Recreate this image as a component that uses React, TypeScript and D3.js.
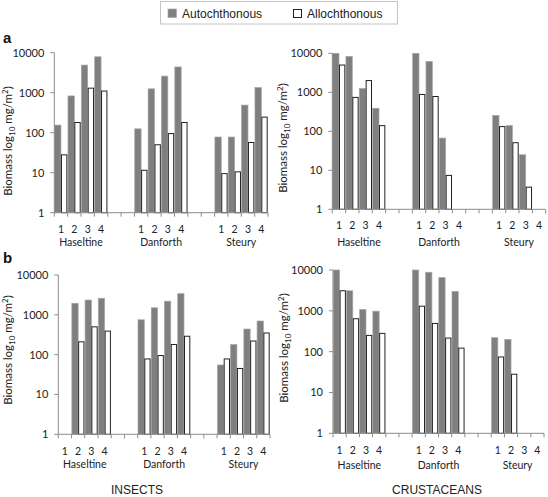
import React from "react";
import * as d3 from "d3";

// ---- data ----
const sites = ["Haseltine", "Danforth", "Steury"];
const reaches = ["1", "2", "3", "4"];
const yTicks = [1, 10, 100, 1000, 10000];
const seriesNames = ["Autochthonous", "Allochthonous"];

// values per slot: Haseltine 1-4, Danforth 1-4, Steury 1-4 (null = no bar)
const insectsA_auto = [155, 830, 4900, 7900, 125, 1250, 2600, 4400, 78, 78, 490, 1350];
const insectsA_allo = [28, 180, 1300, 1100, 11.5, 50, 95, 180, 9.5, 10.5, 57, 245];
const crustA_auto = [10000, 8300, 1250, 390, 10000, 6200, 67, null, 255, 140, 25, null];
const crustA_allo = [5000, 740, 2000, 140, 880, 780, 7.4, null, 132, 51, 3.7, null];
const insectsB_auto = [null, 1950, 2350, 2600, 750, 1500, 2200, 3400, 55, 180, 440, 700];
const insectsB_allo = [null, 210, 500, 390, 78, 95, 180, 290, 78, 45, 220, 350];
const crustB_auto = [10000, 3100, 1080, 980, 10000, 8800, 6500, 3000, 220, 200, null, null];
const crustB_allo = [3100, 640, 250, 280, 1300, 490, 215, 122, 74, 28, null, null];

const panelTitles = ["INSECTS", "CRUSTACEANS"];
const panelLetters = ["a", "b"];

// slots: 4 reaches per site, 2 blank slots between sites
const slotKeys: string[] = [];
sites.forEach((s, i) => {
  reaches.forEach((r) => slotKeys.push(`${s}-${r}`));
  if (i < sites.length - 1) {
    slotKeys.push(`gap${i}a`);
    slotKeys.push(`gap${i}b`);
  }
});

const FONT = "Lato, 'Open Sans', sans-serif";
const ARIAL = "'Liberation Sans', Arial, sans-serif";
const GRAY = "#7f7f7f";
const AXIS = "#8c8c8c";

type PanelCfg = {
  x0: number; x1: number; yTop: number; yBot: number;
  auto: (number | null)[]; allo: (number | null)[];
  numY: number; nameY: number; titleX: number; titleY: number;
};

function Panel({ cfg }: { cfg: PanelCfg }) {
  const x = d3.scaleBand<string>().domain(slotKeys).range([cfg.x0, cfg.x1]).padding(0);
  const y = d3.scaleLog().domain([1, 10000]).range([cfg.yBot, cfg.yTop]);
  const sub = d3.scaleBand<string>().domain(seriesNames).range([0, x.bandwidth()]).paddingOuter(0.05).paddingInner(0);
  const keysData = sites.flatMap((s) => reaches.map((r) => `${s}-${r}`));
  const boundaries = slotKeys.map((k) => x(k)!).concat([cfg.x1]);
  const groups = [cfg.auto, cfg.allo];
  return (
    <g>
      {/* bars */}
      {groups.map((vals, si) =>
        vals.map((v, i) => {
          if (v == null) return null;
          const bx = x(keysData[i])! + sub(seriesNames[si])!;
          const top = y(v);
          return si === 0 ? (
            <rect key={`${si}-${i}`} x={bx} y={top} width={sub.bandwidth()} height={cfg.yBot - top}
              fill={GRAY} stroke="#a6a6a6" strokeWidth={0.7} />
          ) : (
            <rect key={`${si}-${i}`} x={bx + 0.5} y={top} width={sub.bandwidth() - 1} height={cfg.yBot - top}
              fill="#ffffff" stroke="#222" strokeWidth={1} />
          );
        })
      )}
      {/* y axis */}
      <line x1={cfg.x0} x2={cfg.x0} y1={cfg.yTop} y2={cfg.yBot} stroke={AXIS} strokeWidth={1} />
      {yTicks.map((t) => (
        <g key={t}>
          <line x1={cfg.x0 - 4} x2={cfg.x0} y1={y(t)} y2={y(t)} stroke={AXIS} strokeWidth={1} />
          <text x={cfg.x0 - 10} y={y(t)} dy="0.35em" textAnchor="end" fontFamily={FONT} fontSize={11} fill="#222">
            {d3.format("d")(t)}
          </text>
        </g>
      ))}
      {/* x axis */}
      <line x1={cfg.x0} x2={cfg.x1} y1={cfg.yBot} y2={cfg.yBot} stroke={AXIS} strokeWidth={1} />
      {boundaries.map((bx, i) => (
        <line key={i} x1={bx} x2={bx} y1={cfg.yBot} y2={cfg.yBot + 4} stroke={AXIS} strokeWidth={1} />
      ))}
      {keysData.map((k) => (
        <text key={k} x={x(k)! + x.bandwidth() / 2} y={cfg.numY} textAnchor="middle" fontFamily={FONT} fontSize={10.5} fill="#222">
          {k.split("-")[1]}
        </text>
      ))}
      {sites.map((s) => {
        const a = x(`${s}-1`)!;
        const b = x(`${s}-4`)! + x.bandwidth();
        return (
          <text key={s} x={(a + b) / 2} y={cfg.nameY} textAnchor="middle" fontFamily={FONT} fontSize={10.5} fill="#222">
            {s}
          </text>
        );
      })}
      {/* y title */}
      <text transform={`translate(${cfg.titleX},${cfg.titleY}) rotate(-90)`} textAnchor="middle"
        fontFamily={FONT} fontSize={11.5} fill="#222" dy="0.35em">
        Biomass log<tspan fontSize={8} dy="2.5">10</tspan><tspan dy="-2.5"> mg/m</tspan>
        <tspan fontSize={8} dy="-4">2</tspan><tspan dy="4">)</tspan>
      </text>
    </g>
  );
}

export default function App() {
  const panels: PanelCfg[] = [
    { x0: 54.3, x1: 268, yTop: 52.7, yBot: 212.7, auto: insectsA_auto, allo: insectsA_allo, numY: 233.3, nameY: 246, titleX: 8, titleY: 141 },
    { x0: 332.3, x1: 545.7, yTop: 53.3, yBot: 209.3, auto: crustA_auto, allo: crustA_allo, numY: 229.3, nameY: 246, titleX: 283, titleY: 138 },
    { x0: 58.3, x1: 270, yTop: 275, yBot: 434.3, auto: insectsB_auto, allo: insectsB_allo, numY: 455.3, nameY: 468, titleX: 8, titleY: 350 },
    { x0: 333, x1: 544, yTop: 270, yBot: 433.3, auto: crustB_auto, allo: crustB_allo, numY: 453.5, nameY: 469, titleX: 284, titleY: 348 },
  ];
  return (
    <div style={{ position: "absolute", left: 0, top: 0 }}>
      <svg width={548} height={497} style={{ display: "block", background: "#fff" }}>
        {/* legend */}
        <rect x={160.5} y={1.5} width={237} height={22.5} fill="#fff" stroke="#c4c4c4" strokeWidth={1} />
        <rect x={168} y={9} width={8.5} height={8.5} fill={GRAY} stroke="#a6a6a6" strokeWidth={0.7} />
        <text x={182} y={17.5} fontFamily={ARIAL} fontSize={12} fill="#222">{seriesNames[0]}</text>
        <rect x={293.5} y={9.5} width={8} height={8} fill="#fff" stroke="#222" strokeWidth={1} />
        <text x={307} y={17.5} fontFamily={ARIAL} fontSize={12} fill="#222">{seriesNames[1]}</text>

        {panels.map((p, i) => <Panel key={i} cfg={p} />)}

        <text x={3} y={43} fontFamily={ARIAL} fontWeight="bold" fontSize={15} fill="#111">{panelLetters[0]}</text>
        <text x={3} y={263} fontFamily={ARIAL} fontWeight="bold" fontSize={15} fill="#111">{panelLetters[1]}</text>

        <text x={137} y={494} textAnchor="middle" fontFamily={ARIAL} fontSize={12} fill="#222">{panelTitles[0]}</text>
        <text x={437} y={494} textAnchor="middle" fontFamily={ARIAL} fontSize={12} fill="#222">{panelTitles[1]}</text>
      </svg>
    </div>
  );
}
